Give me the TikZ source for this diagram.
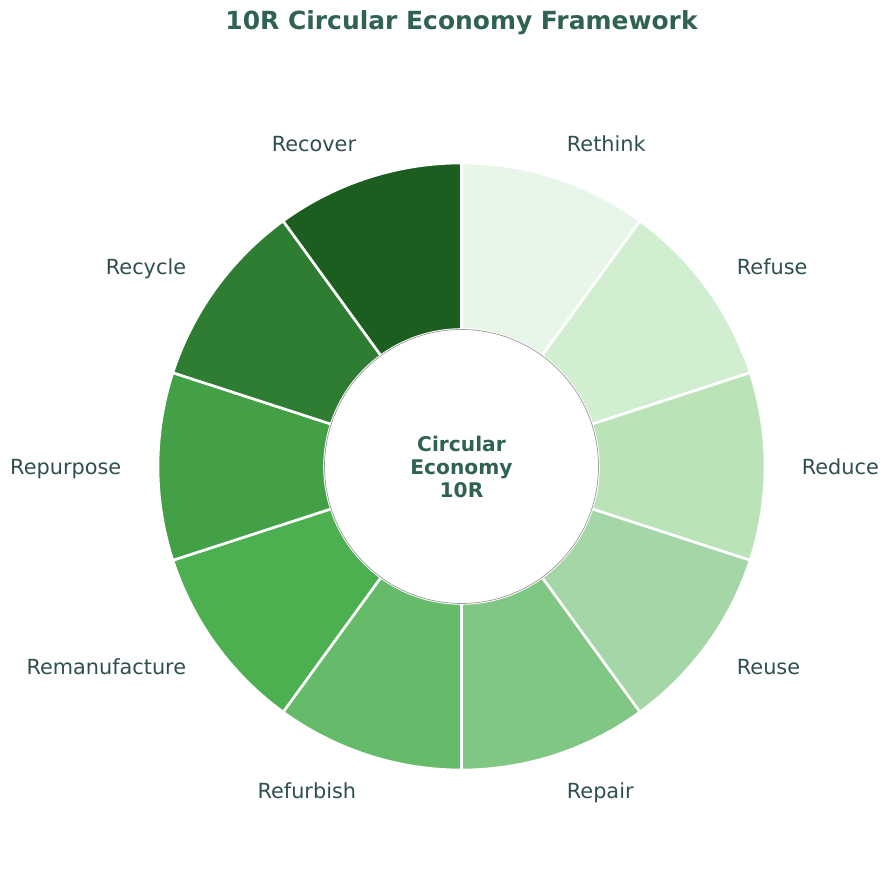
\documentclass[tikz,border=0pt]{standalone}
\usepackage{fontspec}
\setmainfont{DejaVu Sans}
\usetikzlibrary{positioning}

\definecolor{titlegreen}{HTML}{2F6350}
\definecolor{labelgray}{HTML}{2F4F4F}
\definecolor{ringgray}{HTML}{999999}
\definecolor{seg0}{HTML}{E8F5E9}
\definecolor{seg1}{HTML}{D1EED1}
\definecolor{seg2}{HTML}{BAE4B8}
\definecolor{seg3}{HTML}{A5D6A7}
\definecolor{seg4}{HTML}{81C784}
\definecolor{seg5}{HTML}{66BB6A}
\definecolor{seg6}{HTML}{4CAF50}
\definecolor{seg7}{HTML}{43A047}
\definecolor{seg8}{HTML}{2E7D32}
\definecolor{seg9}{HTML}{1B5E20}

\begin{document}
\begin{tikzpicture}[x=0.02cm, y=0.02cm, wedge/.style={draw=white, line width=0.052cm, line join=miter}, lbl/.style={inner sep=0pt, text height=0.72em, text depth=0.04em, yshift=-0.045cm, text=labelgray, font=\fontsize{11.85}{13}\selectfont}, hub/.style={circle, draw=ringgray, fill=white, line width=0.4pt, minimum size=5.48cm, inner sep=0pt}]
\useasboundingbox (-461.5,-421.5) rectangle (427.5,466.5);
% ring of ten wedges, clockwise from the top
\foreach \name [count=\i from 0] in {Rethink,Refuse,Reduce,Reuse,Repair,Refurbish,Remanufacture,Repurpose,Recycle,Recover} {
  \pgfmathsetmacro{\a}{90-36*\i}
  \pgfmathsetmacro{\b}{\a-36}
  \pgfmathsetmacro{\m}{\a-18}
  \pgfmathsetmacro{\side}{cos(\m)>0 ? 180 : 0}
  \filldraw [wedge, fill=seg\i] (\a:137) -- (\a:303.5) arc (\a:\b:303.5) -- (\b:137) arc (\b:\a:137) -- cycle;
  \node (\name) [lbl, anchor=\side] at (\m:340) {\name};
}
\node (CENTER) [hub] at (0,0) {};
\node (HUBTEXT) [align=center, text=titlegreen, font=\bfseries\fontsize{11.5}{13.1}\selectfont] at (0,0) {Circular\\Economy\\10R};
\node (TITLE) [anchor=base, text=titlegreen, font=\bfseries\fontsize{14.2}{16}\selectfont] at (0,436.5) {10R Circular Economy Framework};
\end{tikzpicture}
\end{document}
